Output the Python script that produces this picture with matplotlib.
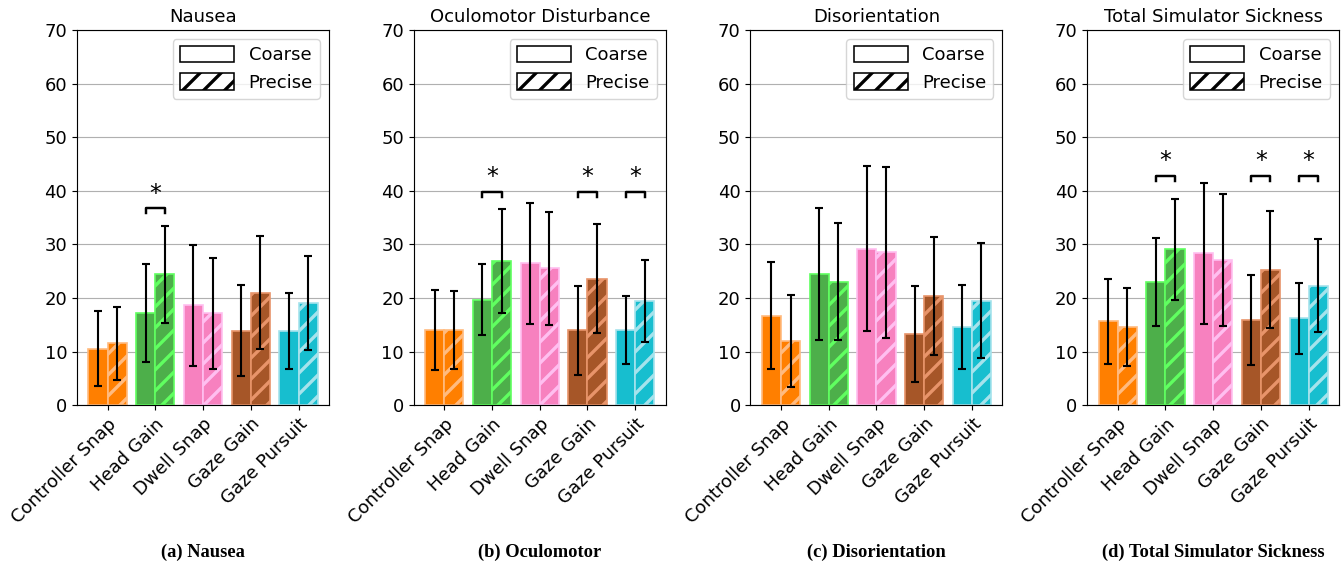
import matplotlib
matplotlib.use("Agg")
import matplotlib.pyplot as plt
from matplotlib.patches import Patch
import numpy as np

# techniques on the x axis
techniques = ["Controller Snap", "Head Gain", "Dwell Snap", "Gaze Gain", "Gaze Pursuit"]
colors = ["#ff7f00", "#4daf4a", "#f781bf", "#a65628", "#17becf"]
edge_colors = ["#ffbb80", "#60ff60", "#ffbff0", "#e8946a", "#a6e3ec"]

titles = ["Nausea", "Oculomotor Disturbance", "Disorientation", "Total Simulator Sickness"]
captions = ["(a) Nausea", "(b) Oculomotor", "(c) Disorientation", "(d) Total Simulator Sickness"]

# mean scores (coarse / precise) and standard deviations, per subscale
nausea_coarse = [10.5, 17.2, 18.6, 13.9, 13.8]
nausea_precise = [11.5, 24.4, 17.1, 21.0, 19.0]
nausea_coarse_sd = [7.0, 9.1, 11.3, 8.5, 7.1]
nausea_precise_sd = [6.8, 9.0, 10.3, 10.5, 8.8]

oculo_coarse = [14.0, 19.7, 26.5, 14.0, 14.0]
oculo_precise = [14.0, 26.9, 25.5, 23.6, 19.4]
oculo_coarse_sd = [7.4, 6.6, 11.3, 8.3, 6.4]
oculo_precise_sd = [7.3, 9.7, 10.6, 10.2, 7.6]

disor_coarse = [16.7, 24.4, 29.2, 13.3, 14.6]
disor_precise = [11.9, 23.0, 28.5, 20.3, 19.5]
disor_coarse_sd = [10.0, 12.3, 15.4, 8.9, 7.8]
disor_precise_sd = [8.6, 10.9, 16.0, 11.0, 10.7]

total_coarse = [15.6, 23.0, 28.3, 15.9, 16.2]
total_precise = [14.6, 29.1, 27.0, 25.3, 22.3]
total_coarse_sd = [8.0, 8.2, 13.2, 8.4, 6.6]
total_precise_sd = [7.3, 9.4, 12.3, 10.9, 8.7]

# significant pairs (index of technique) and bracket height
nausea_sig = [1]
oculo_sig = [1, 3, 4]
disor_sig = []
total_sig = [1, 3, 4]
sig_heights = [36.7, 39.8, None, 42.8]

coarse_all = [nausea_coarse, oculo_coarse, disor_coarse, total_coarse]
precise_all = [nausea_precise, oculo_precise, disor_precise, total_precise]
coarse_sd_all = [nausea_coarse_sd, oculo_coarse_sd, disor_coarse_sd, total_coarse_sd]
precise_sd_all = [nausea_precise_sd, oculo_precise_sd, disor_precise_sd, total_precise_sd]
sig_all = [nausea_sig, oculo_sig, disor_sig, total_sig]

# render at 126 dpi so the hatch stripes are spaced like the original
DPI = 126
plt.rcParams['hatch.linewidth'] = 1.9
plt.rcParams['axes.linewidth'] = 0.65
plt.rcParams['xtick.major.size'] = 2.8
plt.rcParams['ytick.major.size'] = 2.8
plt.rcParams['xtick.major.width'] = 0.65
plt.rcParams['ytick.major.width'] = 0.65
plt.rcParams['xtick.major.pad'] = 2.8
plt.rcParams['ytick.major.pad'] = 2.8
plt.rcParams['legend.framealpha'] = 0.8

fig = plt.figure(figsize=(1342 / DPI, 565 / DPI), dpi=DPI)
x = np.arange(len(techniques))
w = 0.4

for i in range(4):
    left = 0.0574 + i * 0.2509
    ax = fig.add_axes([left, 0.283, 0.1878, 0.664])
    ax.bar(x - w / 2, coarse_all[i], w, color=colors, edgecolor=edge_colors, linewidth=0.95, zorder=2)
    ax.bar(x + w / 2, precise_all[i], w, color=colors, edgecolor=edge_colors, linewidth=0.95,
           hatch='//', zorder=2)
    ax.errorbar(x - w / 2, coarse_all[i], yerr=coarse_sd_all[i], fmt='none', ecolor='black',
                elinewidth=1.2, capsize=2.4, capthick=1.2, zorder=3)
    ax.errorbar(x + w / 2, precise_all[i], yerr=precise_sd_all[i], fmt='none', ecolor='black',
                elinewidth=1.2, capsize=2.4, capthick=1.2, zorder=3)

    # significance brackets
    for j in sig_all[i]:
        h = sig_heights[i]
        ax.plot([j - w / 2, j - w / 2, j + w / 2, j + w / 2], [h - 0.9, h, h, h - 0.9],
                color='black', linewidth=1.4, zorder=3)
        ax.text(j, h + 0.5, '*', ha='center', va='bottom', fontsize=13.5)

    ax.set_ylim(0, 70)
    ax.set_yticks(range(0, 71, 10))
    ax.set_xticks(x)
    ax.set_xticklabels(techniques, rotation=45, ha='right', rotation_mode='anchor')
    ax.tick_params(labelsize=10.3)
    ax.yaxis.grid(True, color='#b0b0b0', linewidth=0.65)
    ax.set_axisbelow(True)
    ax.set_title(titles[i], fontsize=10.3, pad=4.5)

    handles = [Patch(facecolor='white', edgecolor='black', linewidth=0.9, label='Coarse'),
               Patch(facecolor='white', edgecolor='black', linewidth=0.9, hatch='//', label='Precise')]
    leg = ax.legend(handles=handles, loc='upper right', fontsize=10.3, handlelength=3.0,
                    handleheight=1.0)
    leg.get_frame().set_linewidth(0.8)

    fig.text(left + 0.1878 / 2, 1 - 552 / 565, captions[i], ha='center', va='center',
             fontsize=10.6, fontweight='bold', family='Liberation Serif')

fig.savefig('out.png', dpi=DPI)
